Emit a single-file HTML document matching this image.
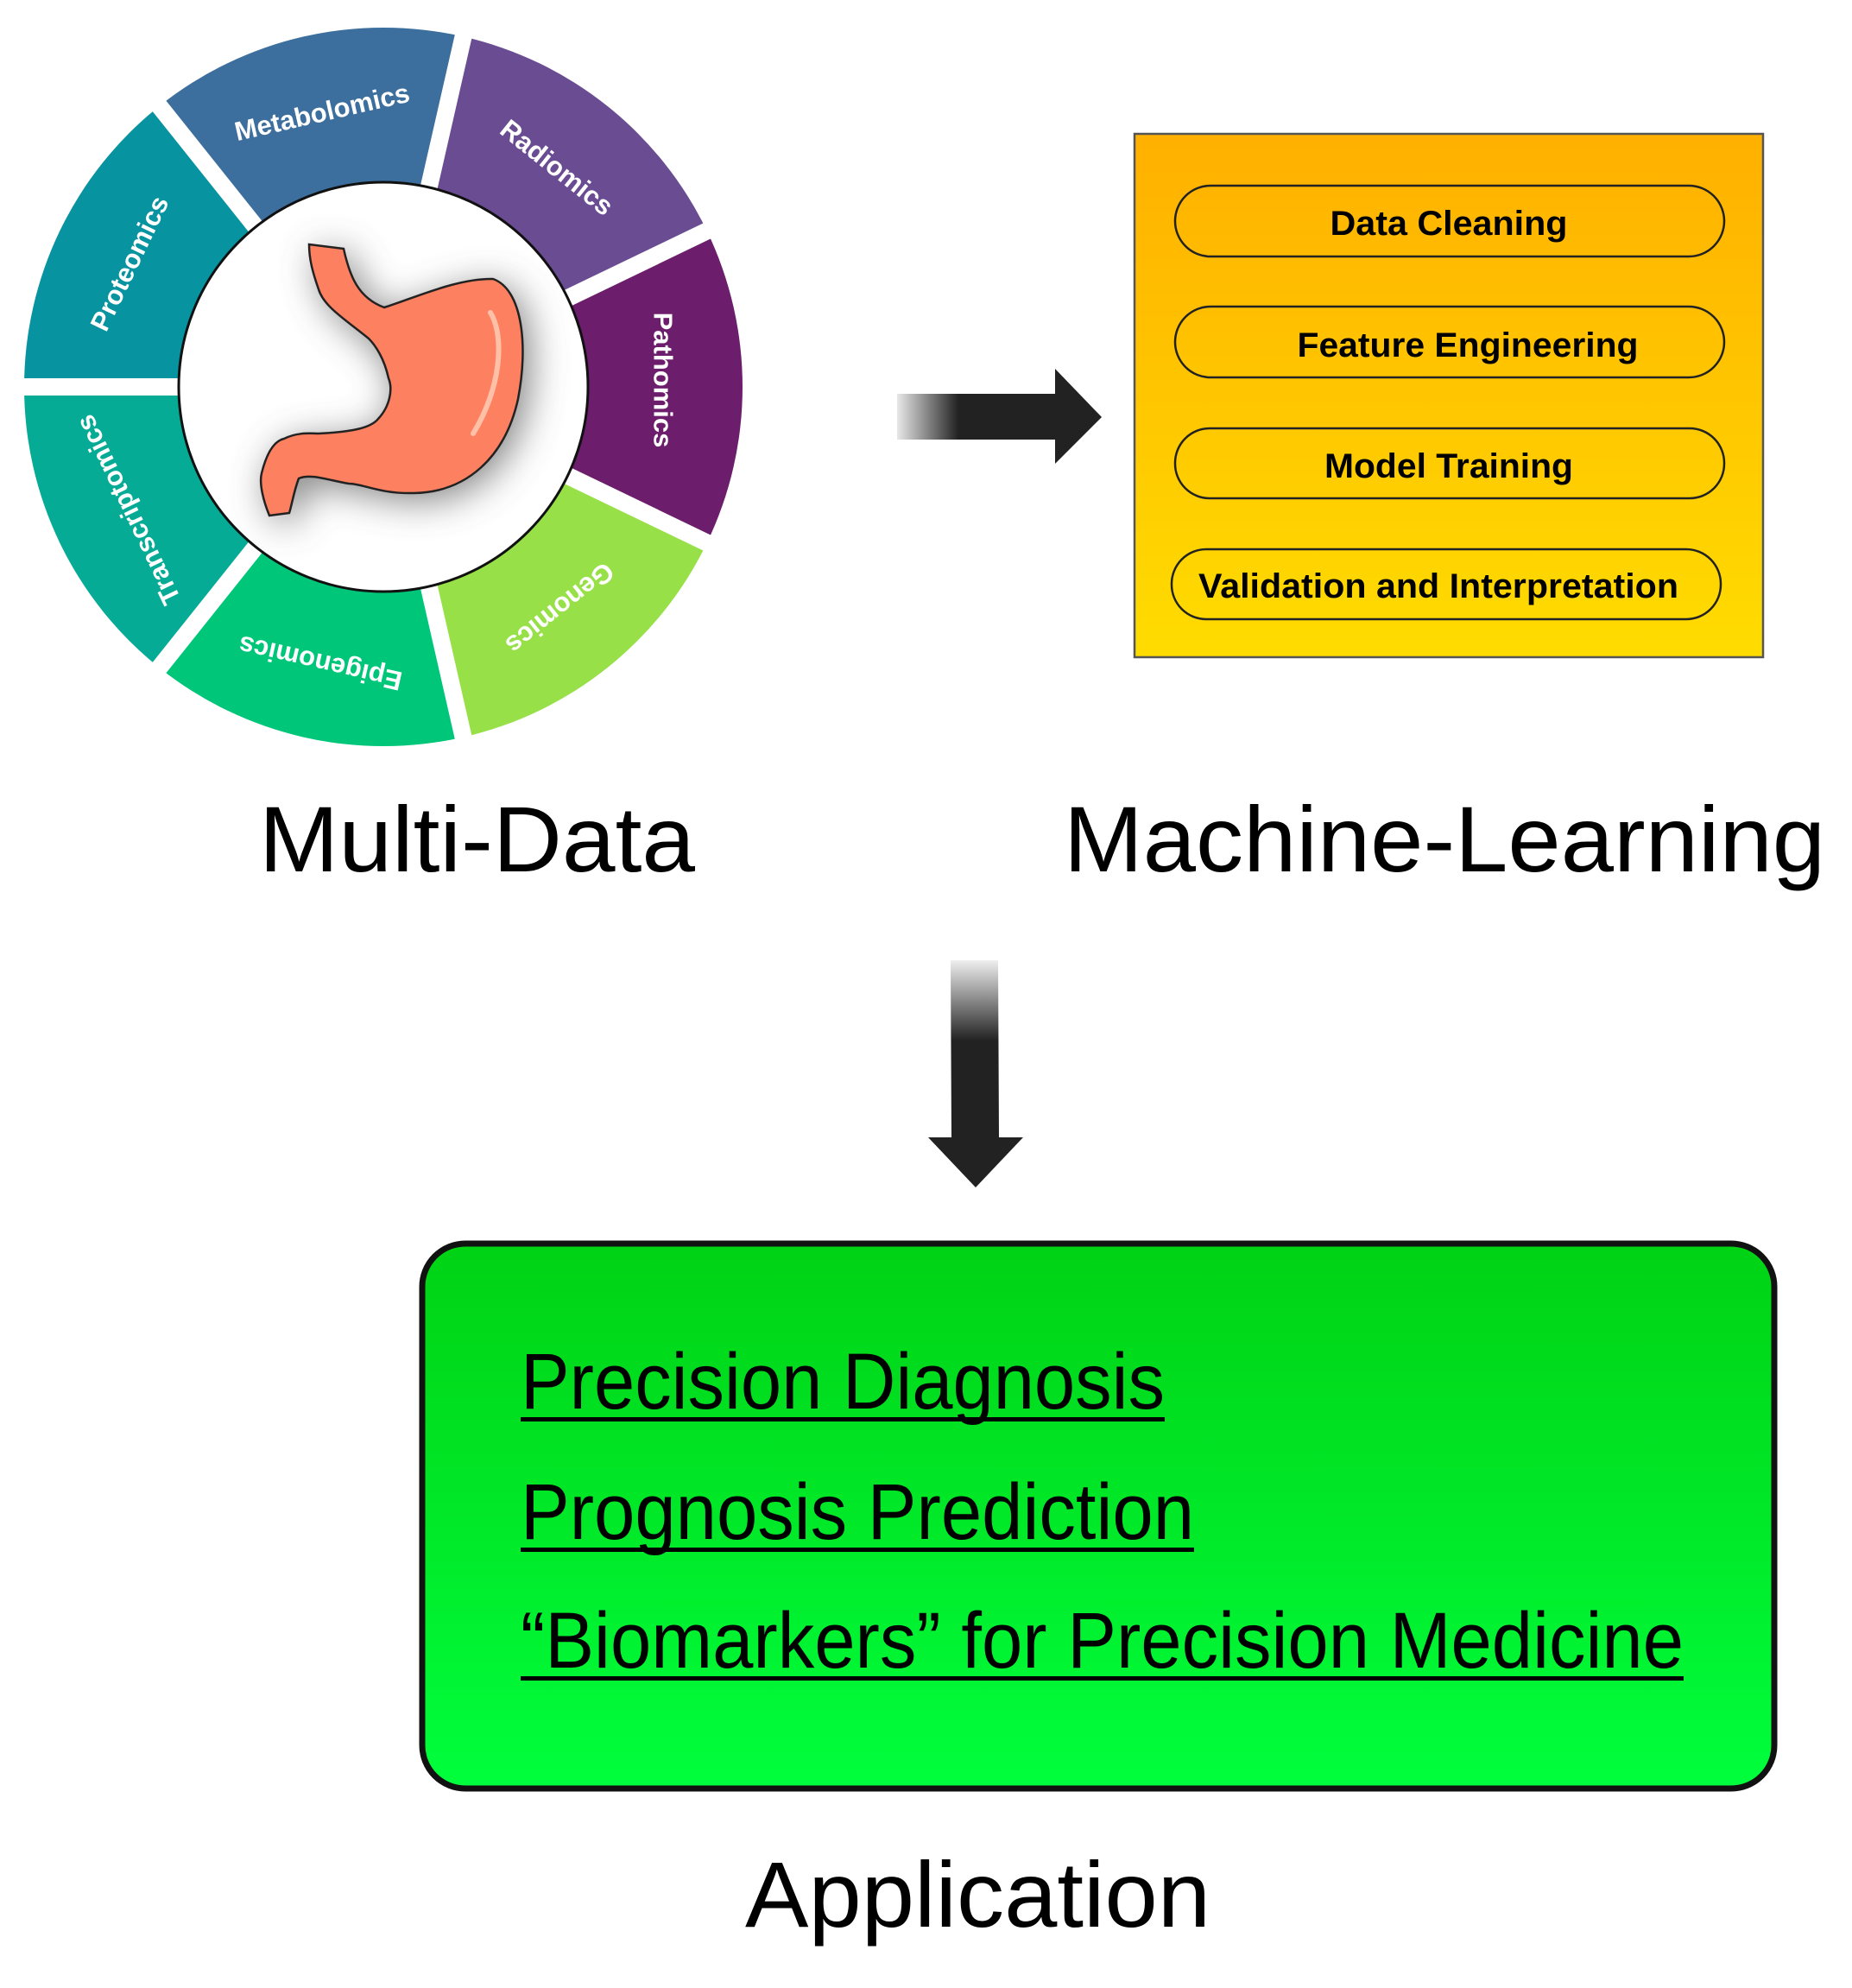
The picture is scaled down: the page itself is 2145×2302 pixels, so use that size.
<!DOCTYPE html>
<html><head><meta charset="utf-8"><style>
html,body{margin:0;padding:0;background:#fff;}
svg{display:block;}
</style></head><body>
<svg width="2145" height="2302" viewBox="0 0 2145 2302" xmlns="http://www.w3.org/2000/svg" font-family="Liberation Sans, Arial, sans-serif">
<defs>
<linearGradient id="yl" x1="0" y1="0" x2="0" y2="1"><stop offset="0" stop-color="#ffb000"/><stop offset="1" stop-color="#ffdc00"/></linearGradient>
<linearGradient id="gr" x1="0" y1="0" x2="0" y2="1"><stop offset="0" stop-color="#00d214"/><stop offset="1" stop-color="#00ff3c"/></linearGradient>
<linearGradient id="ah" x1="1039" y1="0" x2="1110" y2="0" gradientUnits="userSpaceOnUse"><stop offset="0" stop-color="#e8e8e8"/><stop offset="1" stop-color="#222"/></linearGradient>
<linearGradient id="av" x1="0" y1="1112" x2="0" y2="1205" gradientUnits="userSpaceOnUse"><stop offset="0" stop-color="#eee"/><stop offset="1" stop-color="#222"/></linearGradient>
<filter id="bl" x="-50%" y="-50%" width="200%" height="200%"><feGaussianBlur stdDeviation="22"/></filter>
<clipPath id="cc"><circle cx="444" cy="448" r="237"/></clipPath>
</defs>

<path d="M444,448 L28,448 A416,416 0 0 1 184.6,122.8 Z" fill="#07939f"/>
<path d="M444,448 L184.6,122.8 A416,416 0 0 1 536.6,42.4 Z" fill="#3d6f9e"/>
<path d="M444,448 L536.6,42.4 A416,416 0 0 1 818.8,267.5 Z" fill="#6a4c93"/>
<path d="M444,448 L818.8,267.5 A416,416 0 0 1 818.8,628.5 Z" fill="#6c1d6b"/>
<path d="M444,448 L818.8,628.5 A416,416 0 0 1 536.6,853.6 Z" fill="#97e047"/>
<path d="M444,448 L536.6,853.6 A416,416 0 0 1 184.6,773.2 Z" fill="#00c67a"/>
<path d="M444,448 L184.6,773.2 A416,416 0 0 1 28,448 Z" fill="#06ab96"/>
<g stroke="#fff" stroke-width="20">
<line x1="444" y1="448" x2="0" y2="448"/>
<line x1="444" y1="448" x2="158.6" y2="90.3"/>
<line x1="444" y1="448" x2="545.8" y2="1.9"/>
<line x1="444" y1="448" x2="856.3" y2="249.4"/>
<line x1="444" y1="448" x2="856.3" y2="646.6"/>
<line x1="444" y1="448" x2="545.8" y2="894.1"/>
<line x1="444" y1="448" x2="158.6" y2="805.7"/>
</g>
<g fill="#fff" font-weight="bold" font-size="31" text-anchor="middle" dominant-baseline="central">
<text transform="translate(150,305) rotate(295.7)">Proteomics</text>
<text transform="translate(373,130) rotate(347.1)">Metabolomics</text>
<text transform="translate(645,194) rotate(38.6)">Radiomics</text>
<text transform="translate(768,440) rotate(90)">Pathomics</text>
<text transform="translate(648.5,704.4) rotate(141.4)">Genomics</text>
<text transform="translate(371,767.8) rotate(192.9)">Epigenomics</text>
<text transform="translate(148.5,590.3) rotate(244.3)">Transcriptomics</text>
</g>
<circle cx="444" cy="448" r="237" fill="#fff"/>
<g clip-path="url(#cc)">
<path d="M358,283 L398,288 C405,320 415,345 445,356 C480,345 530,322 571,323 C605,335 612,400 600,462 C585,530 540,570 479,571 C440,572 420,560 404,560 C380,556 360,548 346,554 C340,570 338,585 335,594 L312,597 C305,580 300,560 303,548 C310,520 320,510 329,508 C345,500 360,502 369,502 C410,500 430,495 438,485 C452,470 455,450 450,438 C445,415 435,400 427,392 C400,370 375,355 369,335 C362,315 358,300 358,283 Z" fill="#555" filter="url(#bl)" opacity="0.75" transform="translate(8,8)"/>
</g>
<circle cx="444" cy="448" r="237" fill="none" stroke="#111" stroke-width="3"/>
<path d="M358,283 L398,288 C405,320 415,345 445,356 C480,345 530,322 571,323 C605,335 612,400 600,462 C585,530 540,570 479,571 C440,572 420,560 404,560 C380,556 360,548 346,554 C340,570 338,585 335,594 L312,597 C305,580 300,560 303,548 C310,520 320,510 329,508 C345,500 360,502 369,502 C410,500 430,495 438,485 C452,470 455,450 450,438 C445,415 435,400 427,392 C400,370 375,355 369,335 C362,315 358,300 358,283 Z" fill="#fd8060" stroke="#222" stroke-width="2.5"/>
<path d="M568,362 C585,390 580,450 548,502" fill="none" stroke="#ffc0a8" stroke-width="6" stroke-linecap="round"/>

<path d="M1039,456 L1222,456 L1222,427 L1276,483 L1222,537 L1222,509 L1039,509 Z" fill="url(#ah)"/>

<rect x="1314" y="155" width="728" height="606" fill="url(#yl)" stroke="#555" stroke-width="2.5"/>
<g fill="none" stroke="#222" stroke-width="2.5">
<rect x="1361" y="215" width="636" height="82" rx="41"/>
<rect x="1361" y="355" width="636" height="82" rx="41"/>
<rect x="1361" y="496" width="636" height="81" rx="40"/>
<rect x="1357" y="636" width="636" height="81" rx="40"/>
</g>
<g font-weight="bold" font-size="40" fill="#000" text-anchor="middle">
<text x="1678" y="272" textLength="275" lengthAdjust="spacingAndGlyphs">Data Cleaning</text>
<text x="1700" y="413" textLength="395" lengthAdjust="spacingAndGlyphs">Feature Engineering</text>
<text x="1678" y="553" textLength="288" lengthAdjust="spacingAndGlyphs">Model Training</text>
<text x="1666" y="692" textLength="556" lengthAdjust="spacingAndGlyphs">Validation and Interpretation</text>
</g>

<g font-size="108" fill="#000">
<text x="300" y="1009" textLength="505" lengthAdjust="spacingAndGlyphs">Multi-Data</text>
<text x="1232" y="1009" textLength="882" lengthAdjust="spacingAndGlyphs">Machine-Learning</text>
</g>

<path d="M1101,1112 L1156,1112 L1157,1317 L1185,1317 L1130,1375 L1075,1317 L1102,1317 Z" fill="url(#av)"/>

<rect x="489" y="1440" width="1566" height="631" rx="50" fill="url(#gr)" stroke="#111" stroke-width="7"/>
<g font-size="92" fill="#000">
<text x="603" y="1631" textLength="746" lengthAdjust="spacingAndGlyphs">Precision Diagnosis</text>
<text x="603" y="1782" textLength="780" lengthAdjust="spacingAndGlyphs">Prognosis Prediction</text>
<text x="603" y="1931" textLength="1347" lengthAdjust="spacingAndGlyphs">“Biomarkers” for Precision Medicine</text>
</g>
<g fill="#000">
<rect x="603" y="1641" width="746" height="5"/>
<rect x="603" y="1792" width="780" height="5"/>
<rect x="603" y="1941" width="1347" height="5"/>
</g>
<text x="863" y="2231" font-size="108" textLength="539" lengthAdjust="spacingAndGlyphs" fill="#000">Application</text>
</svg>
</body></html>
